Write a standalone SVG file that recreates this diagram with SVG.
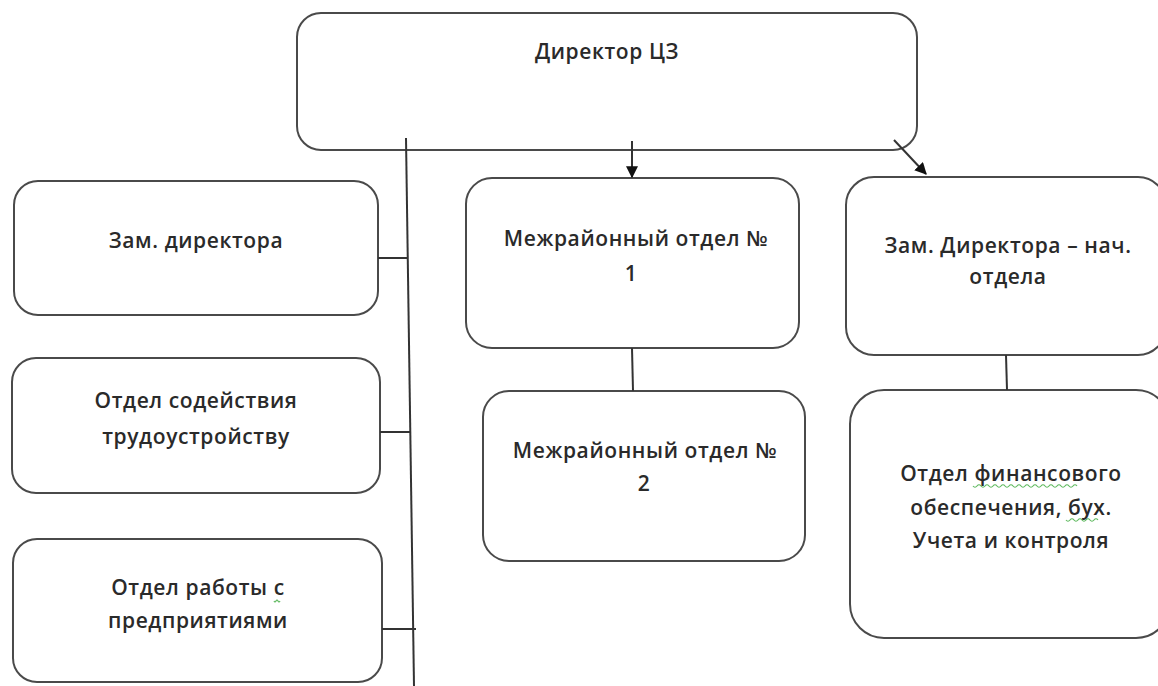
<svg xmlns="http://www.w3.org/2000/svg" width="1158" height="686" viewBox="0 0 1158 686">
<defs>
<style>
.box{fill:#fff;stroke:#4a4a4a;stroke-width:2}
.t{font-family:"Open Sans","Liberation Sans",sans-serif;font-size:21px;font-weight:600;letter-spacing:0.6px;fill:#2a2a2a;text-anchor:middle}
.c{stroke:#333;stroke-width:2;fill:none}
.sq{stroke:#5cb85c;stroke-width:1.2;fill:none}
</style>
<marker id="ah" viewBox="0 0 10 10" refX="9" refY="5" markerWidth="6" markerHeight="6" orient="auto" markerUnits="strokeWidth">
<path d="M0,0 L10,5 L0,10 z" fill="#111"/>
</marker>
</defs>
<rect width="1158" height="686" fill="#fff"/>
<g id="director">
<rect class="box" x="297" y="13" width="620" height="137" rx="24"/>
<text class="t" x="607" y="59">Директор ЦЗ</text>
</g>
<g id="zam">
<rect class="box" x="14" y="181" width="364" height="134" rx="24"/>
<text class="t" x="196" y="248">Зам. директора</text>
</g>
<g id="otdel-sod">
<rect class="box" x="12" y="358" width="368" height="135" rx="24"/>
<text class="t" x="196" y="408">Отдел содействия</text>
<text class="t" x="196" y="444">трудоустройству</text>
</g>
<g id="otdel-pred">
<rect class="box" x="13" y="539" width="369" height="143" rx="24"/>
<text class="t" x="198" y="595">Отдел работы с</text>
<text class="t" x="198" y="628">предприятиями</text>
<path class="sq" d="M274,601 q1,2 2,0 q1,-2 2,0 q1,2 2,0"/>
</g>
<g id="mro1">
<rect class="box" x="466" y="178" width="333" height="170" rx="26"/>
<text class="t" x="636" y="246">Межрайонный отдел №</text>
<text class="t" x="631" y="281">1</text>
</g>
<g id="mro2">
<rect class="box" x="483" y="391" width="322" height="170" rx="26"/>
<text class="t" x="645" y="458">Межрайонный отдел №</text>
<text class="t" x="644" y="491">2</text>
</g>
<g id="zam-nach">
<rect class="box" x="846" y="177" width="320" height="178" rx="28"/>
<text class="t" x="1008" y="253">Зам. Директора – нач.</text>
<text class="t" x="1008" y="284">отдела</text>
</g>
<g id="otdel-fin">
<rect class="box" x="850" y="390" width="320" height="248" rx="34"/>
<text class="t" x="1011" y="481">Отдел финансового</text>
<text class="t" x="1011" y="515">обеспечения, бух.</text>
<text class="t" x="1011" y="548">Учета и контроля</text>
<path class="sq" d="M973,486 q2,2.5 4,0 q2,-2.5 4,0 q2,2.5 4,0 q2,-2.5 4,0 q2,2.5 4,0 q2,-2.5 4,0 q2,2.5 4,0 q2,-2.5 4,0 q2,2.5 4,0 q2,-2.5 4,0 q2,2.5 4,0 q2,-2.5 4,0 q2,2.5 4,0 q2,-2.5 4,0 q2,2.5 4,0 q2,-2.5 4,0 q2,2.5 4,0 q2,-2.5 4,0 q2,2.5 4,0 q2,-2.5 4,0 q2,2.5 4,0 q2,-2.5 4,0 q2,2.5 4,0 q2,-2.5 4,0 q2,2.5 4,0 q2,-2.5 4,0"/>
<path class="sq" d="M1066,520 q2,2.5 4,0 q2,-2.5 4,0 q2,2.5 4,0 q2,-2.5 4,0 q2,2.5 4,0 q2,-2.5 4,0 q2,2.5 4,0 q2,-2.5 4,0"/>
</g>
<g id="connectors">
<line class="c" x1="406" y1="138" x2="414" y2="686"/>
<line class="c" x1="378" y1="258" x2="408" y2="258"/>
<line class="c" x1="380" y1="432" x2="411" y2="432"/>
<line class="c" x1="382" y1="629" x2="416" y2="629"/>
<line class="c" x1="632" y1="141" x2="632" y2="177" marker-end="url(#ah)"/>
<line class="c" x1="894" y1="140" x2="926" y2="174" marker-end="url(#ah)"/>
<line class="c" x1="632" y1="348" x2="633" y2="391"/>
<line class="c" x1="1006" y1="355" x2="1007" y2="390"/>
</g>
</svg>
